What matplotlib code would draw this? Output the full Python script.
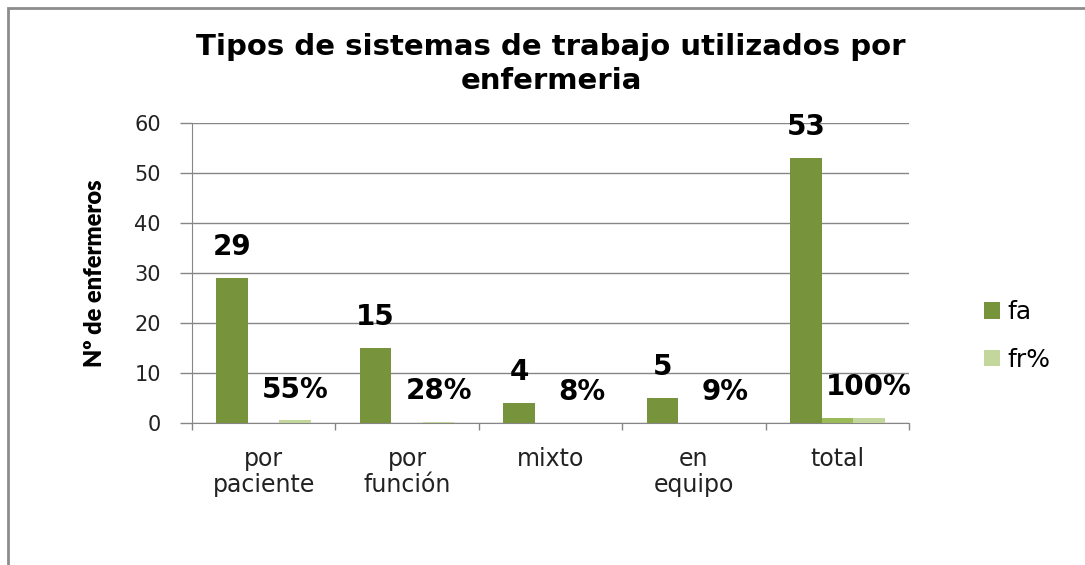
import matplotlib
matplotlib.use("Agg")
import matplotlib.pyplot as plt
from matplotlib.patches import Rectangle
import numpy as np

categories = ["por\npaciente", "por\nfunción", "mixto", "en\nequipo", "total"]
fa = [29, 15, 4, 5, 53]
extra = [0, 0, 0, 0, 1]
fr = [0.55, 0.28, 0.08, 0.09, 1.0]
fr_labels = ["55%", "28%", "8%", "9%", "100%"]

W, H = 1085, 565
fig = plt.figure(figsize=(W/100, H/100), dpi=100)
fig.patch.set_facecolor("white")
ax = fig.add_axes([192/W, 1-423/H, (909-192)/W, (423-123)/H])

x = np.arange(len(categories))
bw = 0.22
c_fa, c_mid, c_fr = "#77933C", "#9BBB59", "#C3D69B"
ax.bar(x - bw, fa, bw, color=c_fa, label="fa", zorder=3)
ax.bar(x, extra, bw, color=c_mid, zorder=3)
ax.bar(x + bw, fr, bw, color=c_fr, label="fr%", zorder=3)

for xi, v in zip(x, fa):
    ax.annotate(str(v), (xi - bw, v), xytext=(0, 12), textcoords="offset points",
                ha="center", va="bottom", fontsize=20, fontweight="bold", color="black",
                family="DejaVu Sans")
for xi, v, lab in zip(x, fr, fr_labels):
    ax.annotate(lab, (xi + bw, v), xytext=(0, 12), textcoords="offset points",
                ha="center", va="bottom", fontsize=20, fontweight="bold", color="black",
                family="DejaVu Sans")

ax.set_xlim(-0.5, len(categories) - 0.5)
ax.set_ylim(0, 60)
ax.set_yticks(range(0, 61, 10))
ax.yaxis.grid(True, color="#868686", linewidth=1, zorder=0)
ax.set_axisbelow(True)
ax.set_xticks(x)
ax.set_xticklabels(categories, fontsize=17, linespacing=1.15, color="#222222",
                   family="DejaVu Sans")
ax.tick_params(axis="x", length=0, pad=17)
ax.set_xticks(np.arange(-0.5, len(categories), 1), minor=True)
ax.tick_params(axis="x", which="minor", length=5, color="#868686", width=1)
ax.tick_params(axis="y", length=8.5, color="#868686", width=1, labelsize=15, pad=14,
               labelcolor="#222222")
for s in ["top", "right"]:
    ax.spines[s].set_visible(False)
ax.spines["left"].set_color("#868686")
ax.spines["bottom"].set_color("#868686")

ax.set_ylabel("Nº de enfermeros", fontsize=17, fontweight="heavy",
              family=["Lato", "DejaVu Sans"], labelpad=20)

fig.text(551/W, 1-64/H, "Tipos de sistemas de trabajo utilizados por\nenfermeria",
         ha="center", va="center", fontsize=21, fontweight="bold", linespacing=1.3,
         family="DejaVu Sans")

leg = fig.legend(handles=ax.containers[0:1] + ax.containers[2:3], labels=["fa", "fr%"],
                 loc="center left", bbox_to_anchor=(961/W, 1-336/H), frameon=False,
                 fontsize=18, handlelength=0.65, handleheight=0.65, labelspacing=0.95,
                 handletextpad=0.3)

fig.add_artist(Rectangle((8/W, -0.1), 1.2, (1-8/H) + 0.1, transform=fig.transFigure,
                         fill=False, edgecolor="#8c8c8c", linewidth=2))

fig.savefig("out.png", dpi=100)
